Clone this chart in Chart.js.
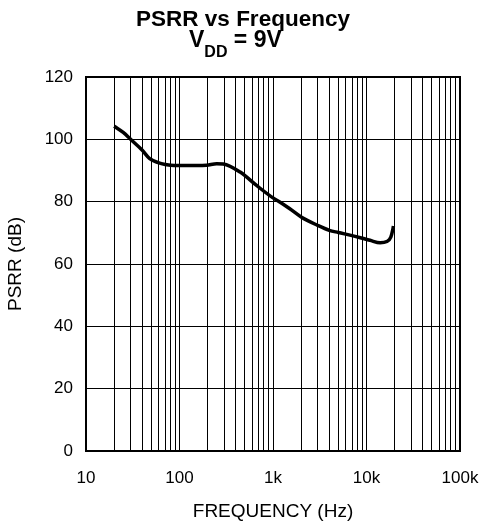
<!DOCTYPE html>
<html>
<head>
<meta charset="utf-8">
<script src="https://cdn.jsdelivr.net/npm/chart.js"></script>
<style>
  html, body { margin: 0; padding: 0; background: #fff; }
  #wrap { width: 482px; height: 527px; position: relative; }
</style>
</head>
<body>
<div id="wrap"><canvas id="psrr" width="482" height="527"></canvas></div>
<script>
// values
const freqHz = [20, 25, 30, 40, 48, 64, 80, 100, 150, 195, 250, 294, 445, 667, 1000, 1180, 1500, 2000, 3000, 4000, 5000, 7000, 8400, 10900, 14000, 16500, 18200, 19100, 19400];
const psrrDb = [104.2, 102.2, 100.0, 96.5, 93.8, 92.2, 91.7, 91.6, 91.6, 91.7, 92.2, 92.1, 89.5, 85.2, 81.2, 79.9, 77.8, 75.1, 72.4, 70.8, 70.1, 69.1, 68.5, 67.6, 66.8, 67.2, 68.6, 71.0, 72.2];

const xTickValues = [10, 100, 1000, 10000, 100000];
const xTickLabels = ['10', '100', '1k', '10k', '100k'];
const yTicks = [0, 20, 40, 60, 80, 100, 120];

const titleLine1 = 'PSRR vs Frequency';
const titleLine2 = ['V', 'DD', ' = 9V'];

const FONT = 'Arial, "Liberation Sans", Helvetica, sans-serif';

// two-line title with subscript + heavy frame around plot area
const framePlugin = {
  id: 'frame',
  afterDraw(chart) {
    const { ctx, chartArea: a } = chart;
    ctx.save();
    ctx.strokeStyle = '#000';
    ctx.lineWidth = 2;
    ctx.strokeRect(a.left, a.top, a.right - a.left, a.bottom - a.top);

    ctx.fillStyle = '#000';
    ctx.textBaseline = 'alphabetic';
    ctx.textAlign = 'center';
    ctx.font = 'bold 22.5px ' + FONT;
    ctx.fillText(titleLine1, 243, 26);

    const big = 'bold 23px ' + FONT, small = 'bold 16px ' + FONT;
    ctx.textAlign = 'left';
    let x = 189;
    ctx.font = big;
    ctx.fillText(titleLine2[0], x, 46.5);
    x += ctx.measureText(titleLine2[0]).width;
    ctx.font = small;
    ctx.fillText(titleLine2[1], x, 56.5);
    x += ctx.measureText(titleLine2[1]).width;
    ctx.font = big;
    ctx.fillText(titleLine2[2], x, 46.5);
    ctx.restore();
  }
};

new Chart(document.getElementById('psrr'), {
  type: 'line',
  data: {
    datasets: [{
      data: freqHz.map((f, i) => ({ x: f, y: psrrDb[i] })),
      borderColor: '#000',
      borderWidth: 3.5,
      pointRadius: 0,
      cubicInterpolationMode: 'monotone',
      fill: false
    }]
  },
  options: {
    responsive: false,
    animation: false,
    events: [],
    layout: { padding: { left: 0, right: 22, top: 77, bottom: 0 } },
    plugins: { legend: { display: false }, title: { display: false }, tooltip: { enabled: false } },
    scales: {
      x: {
        type: 'logarithmic',
        min: xTickValues[0],
        max: xTickValues[xTickValues.length - 1],
        afterBuildTicks(scale) {
          const t = [];
          for (let d = 0; d < xTickValues.length - 1; d++) {
            for (let m = 1; m <= 9; m++) t.push({ value: xTickValues[d] * m });
          }
          t.push({ value: xTickValues[xTickValues.length - 1] });
          scale.ticks = t;
        },
        afterFit(scale) {
          scale.height = 76;
          scale.paddingLeft = 0;
          scale.paddingRight = 0;
        },
        grid: { color: '#000', lineWidth: 1, drawTicks: false },
        border: { display: false },
        ticks: {
          autoSkip: false,
          maxRotation: 0,
          padding: 17,
          color: '#000',
          font: { family: FONT, size: 17 },
          callback(v) {
            const i = xTickValues.indexOf(v);
            return i >= 0 ? xTickLabels[i] : '';
          }
        },
        title: {
          display: true,
          text: 'FREQUENCY (Hz)',
          color: '#000',
          font: { family: FONT, size: 19 },
          padding: { top: 0, bottom: 4 }
        }
      },
      y: {
        min: yTicks[0],
        max: yTicks[yTicks.length - 1],
        afterBuildTicks(scale) { scale.ticks = yTicks.map(v => ({ value: v })); },
        afterFit(scale) {
          scale.width = 86;
          scale.paddingTop = 0;
          scale.paddingBottom = 0;
        },
        grid: { color: '#000', lineWidth: 1, drawTicks: false },
        border: { display: false },
        ticks: {
          padding: 13,
          color: '#000',
          font: { family: FONT, size: 17 }
        },
        title: {
          display: true,
          text: 'PSRR (dB)',
          color: '#000',
          font: { family: FONT, size: 19 },
          padding: { top: 4, bottom: 0 }
        }
      }
    }
  },
  plugins: [framePlugin]
});
</script>
</body>
</html>
